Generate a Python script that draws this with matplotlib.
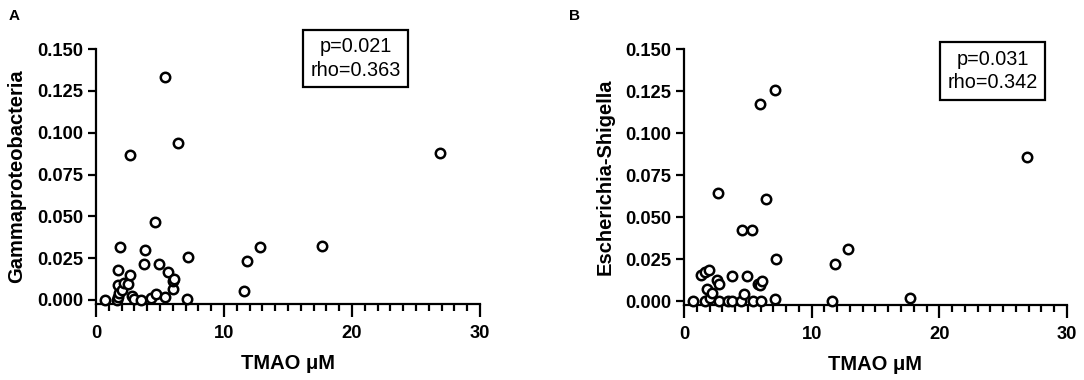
import matplotlib
matplotlib.use("Agg")
import matplotlib.pyplot as plt
from matplotlib.ticker import MultipleLocator, FormatStrFormatter

plt.rcParams['font.family'] = ['Liberation Sans', 'DejaVu Sans']

# Panel A: Gammaproteobacteria vs TMAO
tmao_a = [0.73, 1.61, 1.69, 1.80, 1.69, 1.69, 1.91, 2.00, 2.15, 2.48, 2.69, 2.69,
          2.83, 3.00, 3.50, 3.74, 3.79, 4.30, 4.57, 4.65, 4.90, 5.38, 5.38, 5.60,
          6.03, 6.05, 6.11, 6.38, 7.08, 7.21, 11.57, 11.78, 12.81, 17.65, 26.85]
gamma = [0.000, 0.000, 0.0016, 0.0040, 0.0092, 0.0178, 0.0314, 0.0060, 0.0100, 0.0096,
         0.0150, 0.0869, 0.0022, 0.0008, 0.000, 0.0216, 0.0298, 0.0010, 0.0465, 0.0036,
         0.0218, 0.1332, 0.0016, 0.0166, 0.0068, 0.0116, 0.0128, 0.0937, 0.0006, 0.0254,
         0.0056, 0.0232, 0.0318, 0.0324, 0.0877]

# Panel B: Escherichia-Shigella vs TMAO
tmao_b = [0.73, 1.35, 1.67, 1.94, 1.81, 1.67, 2.00, 2.20, 2.62, 2.75, 2.70, 2.75,
          3.43, 3.78, 3.78, 4.50, 4.53, 4.69, 4.91, 5.34, 5.37, 5.77, 5.93, 5.99,
          6.04, 6.12, 6.39, 7.15, 7.15, 7.23, 11.60, 11.82, 12.81, 17.67, 26.84]
esch = [0.000, 0.0153, 0.0175, 0.0185, 0.0075, 0.000, 0.0020, 0.0050, 0.0125, 0.0101,
        0.0645, 0.000, 0.000, 0.000, 0.0147, 0.000, 0.0421, 0.0040, 0.0151, 0.0421,
        0.000, 0.0101, 0.1171, 0.0093, 0.000, 0.0121, 0.0609, 0.1256, 0.0010, 0.0248,
        0.000, 0.0220, 0.0308, 0.0020, 0.0859]

panels = [
    dict(x=tmao_a, y=gamma, ylabel="Gammaproteobacteria", label="A",
         stats="p=0.021\nrho=0.363", rect=[0.0886, 0.200, 0.3542, 0.671],
         box_xy=(0.676, 1.046), letter_xy=(0.008, 0.975)),
    dict(x=tmao_b, y=esch, ylabel="Escherichia-Shigella", label="B",
         stats="p=0.031\nrho=0.342", rect=[0.6310, 0.197, 0.3533, 0.674],
         box_xy=(0.806, 0.998), letter_xy=(0.525, 0.975)),
]

fig = plt.figure(figsize=(10.84, 3.80), dpi=100)

for p in panels:
    ax = fig.add_axes(p["rect"])
    ax.scatter(p["x"], p["y"], s=46, facecolors='white', edgecolors='black',
               linewidths=1.8, zorder=3, clip_on=False)
    ax.set_xlim(0, 30)
    ax.set_ylim(-0.0024, 0.15)
    ax.spines['top'].set_visible(False)
    ax.spines['right'].set_visible(False)
    ax.spines['left'].set_linewidth(1.6)
    ax.spines['bottom'].set_linewidth(1.6)
    ax.xaxis.set_major_locator(MultipleLocator(10))
    ax.xaxis.set_minor_locator(MultipleLocator(1))
    ax.yaxis.set_major_locator(MultipleLocator(0.025))
    ax.yaxis.set_major_formatter(FormatStrFormatter('%.3f'))
    ax.tick_params(axis='both', which='major', direction='out', width=1.6,
                   labelsize=13.2)
    ax.tick_params(axis='x', which='major', length=9, pad=6)
    ax.tick_params(axis='x', which='minor', length=5, width=1.6)
    ax.tick_params(axis='y', which='major', length=6, pad=3)
    for lab in ax.get_xticklabels() + ax.get_yticklabels():
        lab.set_fontweight('bold')
    ax.set_xlabel("TMAO μM", fontsize=14.5, fontweight='bold', labelpad=9)
    ax.set_ylabel(p["ylabel"], fontsize=14.5, fontweight='bold', labelpad=8)
    ax.text(p["box_xy"][0], p["box_xy"][1], p["stats"], transform=ax.transAxes,
            ha='center', va='top', fontsize=14.3, linespacing=1.3,
            bbox=dict(boxstyle='square,pad=0.38', facecolor='white',
                      edgecolor='black', linewidth=1.6))
    fig.text(p["letter_xy"][0], p["letter_xy"][1], p["label"], fontsize=11,
             fontweight='bold', ha='left', va='top')

fig.savefig("out.png", dpi=100)
